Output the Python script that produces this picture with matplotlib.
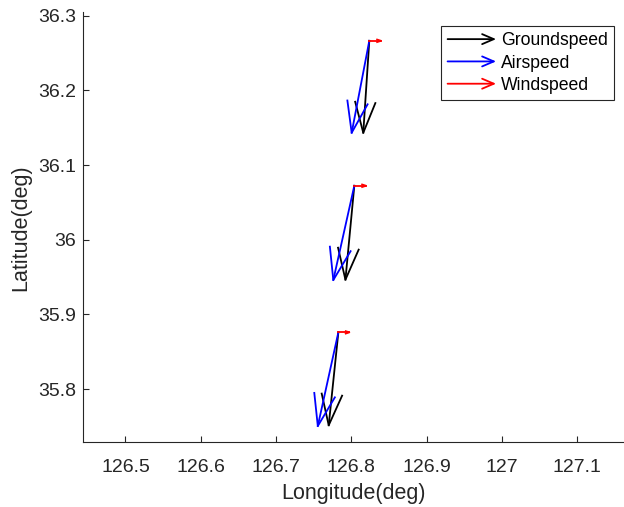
import matplotlib
matplotlib.use("Agg")
import matplotlib.pyplot as plt
from matplotlib.lines import Line2D
from matplotlib.patches import FancyArrowPatch
from matplotlib.legend_handler import HandlerBase

plt.rcParams["font.family"] = ["Liberation Sans", "DejaVu Sans"]

# ==========================
# DATA (deg)
# ==========================

lon = [126.7828, 126.8040, 126.8239]
lat = [35.8759, 36.0723, 36.2665]

# groundspeed vector
gs_u = [-0.0128, -0.0118, -0.0080]
gs_v = [-0.1245, -0.1258, -0.1232]

# airspeed vector
as_u = [-0.0273, -0.0279, -0.0234]
as_v = [-0.1255, -0.1263, -0.1232]

# windspeed vector
ws_u = [0.0146, 0.0155, 0.0155]
ws_v = [0.0, 0.0, 0.0]

gray = (0.15, 0.15, 0.15)


# matlab style quiver (open arrow heads, no autoscale)
def quiver_lines(ax, x, y, u, v, color):
    a, b = 0.33, 0.33
    for xi, yi, ui, vi in zip(x, y, u, v):
        tx = xi + ui
        ty = yi + vi
        ax.plot([xi, tx], [yi, ty], color=color, lw=1.3)
        hx = [tx - a * (ui + b * vi), tx, tx - a * (ui - b * vi)]
        hy = [ty - a * (vi - b * ui), ty, ty - a * (vi + b * ui)]
        ax.plot(hx, hy, color=color, lw=1.3)


class ArrowHandler(HandlerBase):
    def create_artists(self, legend, orig_handle, xdescent, ydescent,
                       width, height, fontsize, trans):
        y0 = height / 2 - ydescent
        arr = FancyArrowPatch(
            (-xdescent, y0), (width - xdescent, y0),
            arrowstyle="->,head_length=0.7,head_width=0.3",
            mutation_scale=12,
            color=orig_handle.get_color(),
            lw=1.3,
            shrinkA=0, shrinkB=0,
            transform=trans
        )
        return [arr]


fig = plt.figure(figsize=(6.24, 5.07), dpi=100)
ax = fig.add_axes([0.1335, 0.1276, 0.865, 0.848])

quiver_lines(ax, lon, lat, gs_u, gs_v, "k")
quiver_lines(ax, lon, lat, as_u, as_v, (0, 0, 1))
quiver_lines(ax, lon, lat, ws_u, ws_v, (1, 0, 0))

ax.set_xlim(126.444, 127.161)
ax.set_ylim(35.7286, 36.3046)

ax.set_xticks([126.5, 126.6, 126.7, 126.8, 126.9, 127.0, 127.1])
ax.set_xticklabels(["126.5", "126.6", "126.7", "126.8", "126.9", "127", "127.1"])
ax.set_yticks([35.8, 35.9, 36.0, 36.1, 36.2, 36.3])
ax.set_yticklabels(["35.8", "35.9", "36", "36.1", "36.2", "36.3"])

ax.spines["top"].set_visible(False)
ax.spines["right"].set_visible(False)
for s in ["left", "bottom"]:
    ax.spines[s].set_color(gray)
    ax.spines[s].set_linewidth(0.8)

ax.tick_params(direction="in", length=4.5, width=0.8, color=gray,
               labelcolor=gray, labelsize=14)
ax.tick_params(axis="x", pad=12)
ax.tick_params(axis="y", pad=5)

ax.set_xlabel("Longitude(deg)", fontsize=15.5, color=gray, labelpad=5)
ax.set_ylabel("Latitude(deg)", fontsize=15.5, color=gray, labelpad=5)

handles = [
    Line2D([], [], color="k"),
    Line2D([], [], color=(0, 0, 1)),
    Line2D([], [], color=(1, 0, 0)),
]
leg = ax.legend(
    handles, ["Groundspeed", "Airspeed", "Windspeed"],
    handler_map={Line2D: ArrowHandler()},
    loc="upper right",
    bbox_to_anchor=(0.984, 0.968),
    borderaxespad=0,
    fontsize=12.7,
    handlelength=2.75,
    handletextpad=0.3,
    labelspacing=0.3,
    borderpad=0.35,
    fancybox=False,
    framealpha=1,
    edgecolor=gray,
)
leg.get_frame().set_linewidth(0.8)

plt.savefig("out.png", dpi=100)
